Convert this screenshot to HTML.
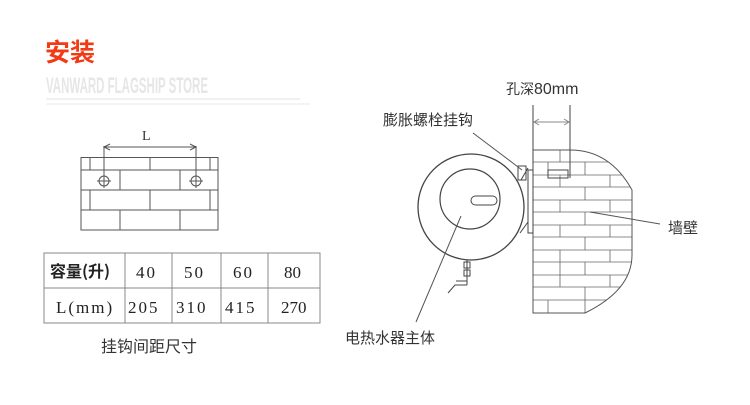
<!DOCTYPE html>
<html><head><meta charset="utf-8"><style>
body{margin:0;width:750px;height:405px;background:#fff;overflow:hidden;font-family:"Liberation Sans","Noto Sans CJK SC",sans-serif}
svg{position:absolute;left:0;top:0}
</style></head><body>
<svg width="750" height="405" viewBox="0 0 750 405">
<text x="45" y="61" font-size="25" font-weight="bold" fill="#f23b14" font-family="Noto Sans CJK SC,sans-serif">安装</text>
<text x="46" y="93" font-size="22" font-weight="bold" fill="#e6e6e6" textLength="162" lengthAdjust="spacingAndGlyphs" font-family="Liberation Sans Narrow,Liberation Sans,sans-serif">VANWARD FLAGSHIP STORE</text>
<line x1="46" y1="99" x2="300" y2="99" stroke="#f0f0f0" stroke-width="2"/>
<line x1="46" y1="104" x2="310" y2="104" stroke="#f4f4f4" stroke-width="2"/>
<g stroke="#555" stroke-width="1" fill="none">
<rect x="81" y="157.5" width="137" height="72.5"/>
<line x1="81" y1="170" x2="218" y2="170"/><line x1="81" y1="190" x2="218" y2="190"/><line x1="81" y1="210" x2="218" y2="210"/>
<line x1="90" y1="157" x2="90" y2="170"/><line x1="150" y1="157" x2="150" y2="170"/><line x1="210" y1="157" x2="210" y2="170"/>
<line x1="120" y1="170" x2="120" y2="190"/><line x1="180" y1="170" x2="180" y2="190"/>
<line x1="90" y1="190" x2="90" y2="210"/><line x1="150" y1="190" x2="150" y2="210"/><line x1="210" y1="190" x2="210" y2="210"/>
<line x1="120" y1="210" x2="120" y2="230"/><line x1="180" y1="210" x2="180" y2="230"/>
<circle cx="104" cy="181" r="5"/><circle cx="196" cy="181" r="5"/>
<line x1="104" y1="146" x2="104" y2="188"/><line x1="196" y1="146" x2="196" y2="188"/>
<line x1="97" y1="181" x2="111" y2="181"/><line x1="189" y1="181" x2="203" y2="181"/>
<line x1="104" y1="147" x2="196" y2="147"/>
<path d="M110 144 L104 147 L110 150 M190 144 L196 147 L190 150"/>
</g>
<text x="142" y="140" font-size="14" fill="#333" font-family="Liberation Serif,serif">L</text>
<g stroke="#888" fill="none" stroke-width="1">
<rect x="44" y="253" width="276" height="70"/>
<line x1="44" y1="288" x2="320" y2="288"/>
<line x1="125" y1="253" x2="125" y2="323"/><line x1="172" y1="253" x2="172" y2="323"/><line x1="221" y1="253" x2="221" y2="323"/><line x1="268" y1="253" x2="268" y2="323"/>
</g>
<g font-size="17" fill="#222" font-family="Liberation Serif,Noto Serif CJK SC,serif" letter-spacing="2">
<text x="50" y="277" font-weight="bold" font-family="Noto Sans CJK SC,sans-serif" font-size="16" letter-spacing="0">容量(升)</text>
<text x="136" y="278">40</text><text x="184" y="278">50</text><text x="233" y="278">60</text><text x="284" y="278" letter-spacing="0">80</text>
<text x="56" y="313">L(mm)</text>
<text x="128" y="313">205</text><text x="176" y="313">310</text><text x="225" y="313">415</text><text x="281" y="313" letter-spacing="0">270</text>
</g>
<text x="101" y="352" font-size="16" fill="#333" font-family="Noto Sans CJK SC,sans-serif">挂钩间距尺寸</text>
<defs><clipPath id="w"><path d="M533 150 L533 313 L585 313 Q632 290 632 255 L632 190 Q610 150 570 150 Z"/></clipPath></defs>
<g clip-path="url(#w)" stroke="#666" stroke-width="0.8" fill="none">
<line x1="533" y1="162" x2="640" y2="162"/><line x1="533" y1="187" x2="640" y2="187"/><line x1="533" y1="212" x2="640" y2="212"/><line x1="533" y1="237" x2="640" y2="237"/><line x1="533" y1="262" x2="640" y2="262"/><line x1="533" y1="287" x2="640" y2="287"/>
<line x1="533" y1="175" x2="640" y2="175"/><line x1="533" y1="200" x2="640" y2="200"/><line x1="533" y1="225" x2="640" y2="225"/><line x1="533" y1="250" x2="640" y2="250"/><line x1="533" y1="275" x2="640" y2="275"/><line x1="533" y1="300" x2="640" y2="300"/>
<path d="M560 150V162M585 162V175M610 175V187M560 175V187M585 187V200M610 200V212M560 200V212M585 212V225M610 225V237M560 225V237M585 237V250M610 250V262M560 250V262M585 262V275M610 275V287M560 275V287M585 287V300M548 300V313M585 300V313M548 162V175M560 262V275"/>
</g>
<path d="M533 150 L533 313 L585 313 Q632 290 632 255 L632 190 Q610 150 570 150 Z" stroke="#555" fill="none"/>
<g stroke="#444" fill="none" stroke-width="1">
<circle cx="471" cy="207" r="53" stroke-width="1.3"/>
<circle cx="470" cy="199" r="30" stroke-width="1.2"/>
<rect x="471" y="196" width="26" height="9" rx="4.5"/>
<path d="M528 170 L533 170 L533 233 L528 233 Z"/>
<path d="M521 180 L528 168 M520 233 L528 222"/>
<rect x="518" y="166" width="8" height="14"/>
<rect x="548" y="170" width="20" height="8"/>
<line x1="533" y1="105" x2="533" y2="178"/><line x1="570" y1="105" x2="570" y2="178"/>
<line x1="534" y1="122" x2="569" y2="122" stroke="#888"/>
<path d="M539 119 L534 122 L539 125 M564 119 L569 122 L564 125" stroke="#888"/>
<path d="M467 260 V285 M464 262h6v6h-6z M464 270h6v6h-6z M467 285 L455 285 L448 293 M467 281 L456 281"/>
<line x1="473" y1="133" x2="522" y2="170" stroke="#555"/>
<line x1="590" y1="212" x2="660" y2="224" stroke="#555"/>
<line x1="461" y1="216" x2="416" y2="322" stroke="#555"/>
</g>
<g font-family="Noto Sans CJK SC,sans-serif" fill="#333" font-size="15">
<text x="506" y="94" font-size="14">孔深<tspan font-family="Liberation Sans" font-size="16">80mm</tspan></text>
<text x="383" y="125">膨胀螺栓挂钩</text>
<text x="668" y="233">墙壁</text>
<text x="345" y="343">电热水器主体</text>
</g>
</svg>
</body></html>
